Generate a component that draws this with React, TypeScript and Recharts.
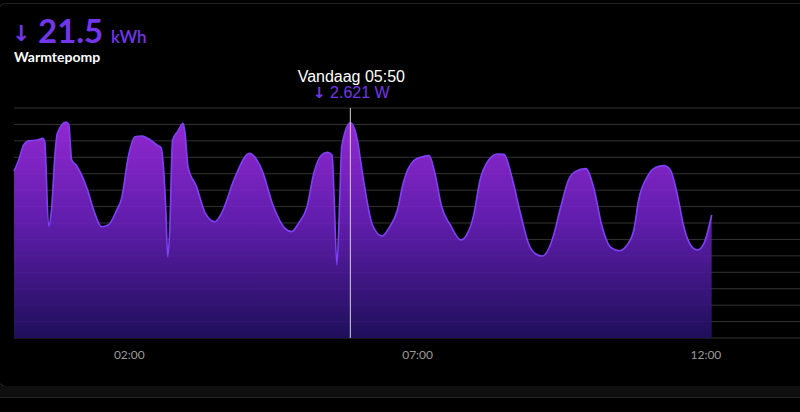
import React from 'react';
import { AreaChart, Area, XAxis, YAxis, CartesianGrid, ReferenceLine } from 'recharts';

const timeLabels = [
  '00:00', '00:05', '00:10', '00:15', '00:24', '00:30', '00:32', '00:36', '00:39', '00:43',
  '00:45', '00:54', '00:57', '01:00', '01:05', '01:16', '01:24', '01:31', '01:38', '01:47',
  '01:52', '01:59', '02:06', '02:13', '02:22', '02:30', '02:33', '02:36', '02:38', '02:40',
  '02:42', '02:45', '02:50', '02:56', '02:58', '03:01', '03:10', '03:19', '03:29', '03:36',
  '03:50', '04:05', '04:18', '04:30', '04:42', '04:49', '04:56', '05:05', '05:12', '05:20',
  '05:26', '05:31', '05:33', '05:36', '05:39', '05:41', '05:50', '05:58', '06:00', '06:06',
  '06:13', '06:23', '06:30', '06:39', '06:45', '06:56', '07:05', '07:12', '07:18', '07:25',
  '07:34', '07:45', '07:51', '07:58', '08:05', '08:14', '08:23', '08:30', '08:38', '08:47',
  '08:56', '09:03', '09:10', '09:20', '09:29', '09:37', '09:44', '09:55', '10:03', '10:12',
  '10:21', '10:30', '10:38', '10:45', '10:50', '10:59', '11:08', '11:16', '11:23', '11:30',
  '11:37', '11:44', '11:51', '11:58', '12:06',
];

const powerValues = [
  2030, 2170, 2350, 2400, 2410, 2430, 2390, 1360, 1560, 2290,
  2490, 2630, 2600, 2170, 2100, 1820, 1520, 1355, 1375, 1560,
  1700, 2210, 2450, 2460, 2410, 2340, 2320, 2000, 1560, 990,
  1300, 2410, 2510, 2615, 2490, 2090, 1840, 1520, 1416, 1520,
  1960, 2250, 2045, 1600, 1335, 1295, 1396, 1600, 2005, 2228,
  2260, 2228, 1760, 890, 1700, 2330, 2621, 2370, 2210, 1760,
  1376, 1242, 1335, 1558, 1883, 2160, 2207, 2220, 2005, 1598,
  1376, 1193, 1254, 1477, 1923, 2167, 2240, 2236, 1963, 1518,
  1132, 1023, 998, 1193, 1598, 1923, 2025, 2062, 1842, 1355,
  1104, 1063, 1132, 1315, 1680, 1963, 2078, 2098, 2045, 1761,
  1355, 1132, 1071, 1153, 1497,
];

const xTickLabels = ['02:00', '07:00', '12:00'];
const yTicks = [0, 200, 400, 600, 800, 1000, 1200, 1400, 1600, 1800, 2000, 2200, 2400, 2600, 2800];

const totalKwh = '21.5';
const seriesName = 'Warmtepomp';
const hoverTime = '05:50';
const hoverValue = '2.621';

const toMin = (t: string) => {
  const [h, m] = t.split(':').map(Number);
  return h * 60 + m;
};
const fmt = (v: number) => {
  const h = Math.floor(v / 60);
  const m = v % 60;
  return `${String(h).padStart(2, '0')}:${String(m).padStart(2, '0')}`;
};

const data = timeLabels.map((t, i) => ({ t: toMin(t), w: powerValues[i] }));

const PURPLE = '#7436ec';

function HoverLabel(props: any) {
  const { viewBox } = props;
  if (!viewBox) return null;
  const x = viewBox.x + 1;
  return (
    <g style={{ fontFamily: '"Liberation Sans", Arial, sans-serif' }}>
      <text x={x} y={82} textAnchor="middle" fill="#ffffff" fontSize={16}>
        Vandaag {hoverTime}
      </text>
      <text x={x} y={98} textAnchor="middle" fill={PURPLE} fontSize={16}>
        <tspan fontFamily='"DejaVu Sans", sans-serif' fontWeight={700} fontSize={15}>↓</tspan> {hoverValue} W
      </text>
    </g>
  );
}

export default function App() {
  return (
    <div style={{ position: 'fixed', left: 0, top: 0, width: 800, height: 412, background: '#000', overflow: 'hidden' }}>
      <div style={{ position: 'absolute', left: -2, top: 3, width: 820, height: 382, borderTop: '1px solid #1f1f1f', borderBottom: '1px solid #2a2a2a', borderLeft: '1px solid #1f1f1f', borderRadius: 8 }} />
      <div style={{ position: 'absolute', left: -2, top: 386, width: 820, height: 11, background: '#0f0f0f', borderBottom: '1px solid #262626' }} />

      <svg width={800} height={70} style={{ position: 'absolute', left: 0, top: 0, fontFamily: 'Lato, sans-serif' }}>
        <text x={12} y={41} fill={PURPLE} fontSize={22} fontWeight={700} fontFamily='"DejaVu Sans", sans-serif'>↓</text>
        <text x={38} y={43} fill={PURPLE} fontSize={33} fontWeight={700}>{totalKwh}</text>
        <text x={111} y={43} fill={PURPLE} fontSize={17} fontWeight={600}>kWh</text>
        <text x={14} y={62} fill="#ffffff" fontSize={14} fontWeight={700}>{seriesName}</text>
      </svg>

      <div style={{ position: 'absolute', left: 1, top: 0 }}>
        <AreaChart width={810} height={380} data={data} margin={{ top: 108, right: 9, bottom: 12, left: 13 }}>
          <defs>
            <linearGradient id="fillGrad" x1="0" y1="0" x2="0" y2="1">
              <stop offset="0%" stopColor="#9d2be0" stopOpacity={0.93} />
              <stop offset="45%" stopColor="#6a20bc" stopOpacity={0.92} />
              <stop offset="100%" stopColor="#211062" stopOpacity={0.92} />
            </linearGradient>
          </defs>
          <CartesianGrid vertical={false} stroke="#333333" strokeWidth={1} />
          <XAxis
            dataKey="t"
            type="number"
            domain={[0, 820]}
            ticks={xTickLabels.map(toMin)}
            tickFormatter={fmt}
            axisLine={false}
            tickLine={false}
            tickMargin={6}
            tick={{ fill: '#9a9a9a', fontSize: 12, fontFamily: 'Lato, sans-serif' }}
          />
          <YAxis hide domain={[0, 2800]} ticks={yTicks} interval={0} />
          <Area
            type="monotone"
            dataKey="w"
            stroke="#8040fa"
            strokeWidth={1.6}
            fill="url(#fillGrad)"
            fillOpacity={1}
            isAnimationActive={false}
            dot={false}
            activeDot={false}
          />
          <ReferenceLine x={toMin(hoverTime)} stroke="#d4d4d4" strokeWidth={1} label={<HoverLabel />} />
        </AreaChart>
      </div>
    </div>
  );
}
